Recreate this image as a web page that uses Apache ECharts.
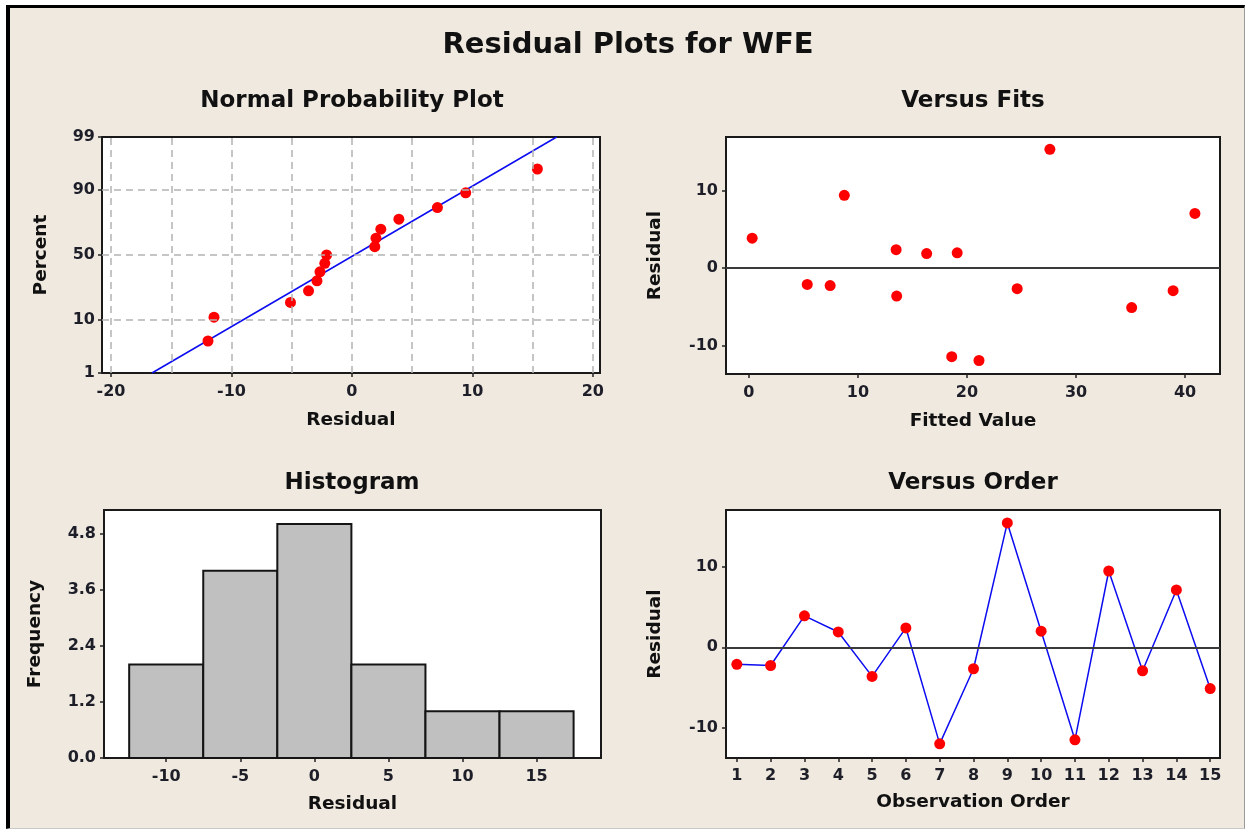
<!DOCTYPE html>
<html>
<head>
<meta charset="utf-8">
<title>Residual Plots for WFE</title>
<script src="https://cdn.jsdelivr.net/npm/echarts@6/dist/echarts.min.js"></script>
<style>
  html, body { margin: 0; padding: 0; background: #ffffff; }
  #frame {
    position: absolute; left: 6px; top: 5px; width: 1234px; height: 820px;
    background: #efe9e0;
    border-left: 4px solid #000; border-top: 3px solid #000;
    border-right: 1px solid #9a9a9a; border-bottom: 1px solid #c8c8c8;
  }
  #chart { position: absolute; left: 0; top: 0; width: 1249px; height: 831px; }
</style>
</head>
<body>
<div id="frame"></div>
<div id="chart"></div>
<script>
// ---- data ----------------------------------------------------------------
const observationOrder = [1, 2, 3, 4, 5, 6, 7, 8, 9, 10, 11, 12, 13, 14, 15];
const residuals = [-2.1, -2.25, 3.9, 1.9, -3.6, 2.4, -11.95, -2.65, 15.4, 2.0, -11.45, 9.45, -2.9, 7.1, -5.1];
const fittedValues = [5.35, 7.45, 0.3, 16.3, 13.55, 13.5, 21.1, 24.6, 27.6, 19.1, 18.6, 8.75, 38.9, 40.9, 35.1];

// plotting positions (percent) of the ordered residuals
const probPercent = [4.5, 11.0, 17.5, 24.0, 30.5, 37.0, 43.5, 50.0, 56.5, 63.0, 69.5, 76.0, 82.5, 89.0, 95.5];
// fitted normal line, as [residual, percent] end points
const normalFitLine = [[-16.6, 1], [17.0, 99]];

// histogram of residuals
const binEdges = [-12.5, -7.5, -2.5, 2.5, 7.5, 12.5, 17.5];
const binCounts = [2, 4, 5, 2, 1, 1];

// tick labels
const percentTicks = [1, 10, 50, 90, 99];
const percentGrid = [10, 50, 90];
const normalResidualTicks = [-20, -10, 0, 10, 20];
const normalGridX = [-20, -15, -10, -5, 0, 5, 10, 15, 20];
const fitTicks = [0, 10, 20, 30, 40];
const residualTicks = [-10, 0, 10];
const freqTicks = [0, 1.2, 2.4, 3.6, 4.8];
const histResidualTicks = [-10, -5, 0, 5, 10, 15];

// ---- normal probability scale ---------------------------------------------
function normInv(p) {
  const a = [-3.969683028665376e+01, 2.209460984245205e+02, -2.759285104469687e+02, 1.383577518672690e+02, -3.066479806614716e+01, 2.506628277459239e+00];
  const b = [-5.447609879822406e+01, 1.615858368580409e+02, -1.556989798598866e+02, 6.680131188771972e+01, -1.328068155288572e+01];
  const c = [-7.784894002430293e-03, -3.223964580411365e-01, -2.400758277161838e+00, -2.549732539343734e+00, 4.374664141464968e+00, 2.938163982698783e+00];
  const d = [7.784695709041462e-03, 3.224671290700398e-01, 2.445134137142996e+00, 3.754408661907416e+00];
  const pl = 0.02425, ph = 1 - pl;
  let q, r;
  if (p < pl) {
    q = Math.sqrt(-2 * Math.log(p));
    return (((((c[0]*q+c[1])*q+c[2])*q+c[3])*q+c[4])*q+c[5]) / ((((d[0]*q+d[1])*q+d[2])*q+d[3])*q+1);
  }
  if (p > ph) {
    q = Math.sqrt(-2 * Math.log(1 - p));
    return -(((((c[0]*q+c[1])*q+c[2])*q+c[3])*q+c[4])*q+c[5]) / ((((d[0]*q+d[1])*q+d[2])*q+d[3])*q+1);
  }
  q = p - 0.5; r = q * q;
  return (((((a[0]*r+a[1])*r+a[2])*r+a[3])*r+a[4])*r+a[5])*q / (((((b[0]*r+b[1])*r+b[2])*r+b[3])*r+b[4])*r+1);
}
const zOf = pct => normInv(pct / 100);
const zTicks = percentTicks.map(zOf);

const sortedResiduals = residuals.slice().sort((x, y) => x - y);
const probPoints = sortedResiduals.map((r, i) => [r, zOf(probPercent[i])]);
const fitLinePoints = normalFitLine.map(([x, p]) => [x, zOf(p)]);
const fitsPoints = fittedValues.map((f, i) => [f, residuals[i]]);
const orderPoints = observationOrder.map((o, i) => [o, residuals[i]]);
const histBins = binCounts.map((c, i) => [binEdges[i], binEdges[i + 1], c]);

// ---- styling helpers -------------------------------------------------------
const FONT = 'DejaVu Sans';
const RED = '#ff0000';
const BLUE = '#0c0cf0';
const GRID_GREY = '#b3b3b3';
const tickLabel = { color: '#1e1e28', fontFamily: FONT, fontSize: 16, fontWeight: 'bold' };
const axisName = { color: '#111', fontFamily: FONT, fontSize: 18.5, fontWeight: 'bold' };

function valueAxis(o) {
  return {
    type: 'value',
    gridIndex: o.grid,
    min: o.min, max: o.max,
    name: o.name, nameLocation: 'middle', nameGap: o.nameGap,
    nameTextStyle: axisName,
    axisLine: { show: false, onZero: false },
    axisTick: { show: true, inside: false, length: 4, customValues: o.ticks, lineStyle: { color: '#222', width: 1.5 } },
    axisLabel: Object.assign({ customValues: o.ticks, margin: o.margin, formatter: o.formatter }, tickLabel),
    splitLine: { show: false }
  };
}

function gridBox(left, top, width, height) {
  return { left, top, width, height, show: true, backgroundColor: '#ffffff',
           borderColor: '#1a1a1a', borderWidth: 2, outerBoundsMode: 'none' };
}

function zeroLine() {
  return {
    silent: true, symbol: 'none', animation: false,
    label: { show: false },
    lineStyle: { color: '#3a3a3a', width: 2, type: 'solid' },
    data: [{ yAxis: 0 }]
  };
}

function titleText(text, x, y, size) {
  return {
    type: 'text', x, y, silent: true,
    style: { text, fill: '#111', font: 'bold ' + size + 'px "' + FONT + '"', align: 'center', verticalAlign: 'middle' }
  };
}

const option = {
  animation: false,
  backgroundColor: 'transparent',
  graphic: [
    titleText('Residual Plots for WFE', 628, 45, 29),
    titleText('Normal Probability Plot', 352, 101, 23),
    titleText('Versus Fits', 973, 101, 23),
    titleText('Histogram', 352, 483, 23),
    titleText('Versus Order', 973, 483, 23)
  ],
  grid: [
    gridBox(102, 137, 498, 236),
    gridBox(726, 137, 494, 237),
    gridBox(104, 510, 497, 248),
    gridBox(726, 510, 494, 248)
  ],
  xAxis: [
    valueAxis({ grid: 0, min: -20.75, max: 20.6, ticks: normalResidualTicks, name: 'Residual', nameGap: 38, margin: 11 }),
    valueAxis({ grid: 1, min: -2.1, max: 43.2, ticks: fitTicks, name: 'Fitted Value', nameGap: 38, margin: 11 }),
    valueAxis({ grid: 2, min: -14.2, max: 19.35, ticks: histResidualTicks, name: 'Residual', nameGap: 37, margin: 11 }),
    valueAxis({ grid: 3, min: 0.68, max: 15.29, ticks: observationOrder, name: 'Observation Order', nameGap: 35, margin: 10 })
  ],
  yAxis: [
    valueAxis({
      grid: 0, min: zOf(1), max: zOf(99), ticks: zTicks, name: 'Percent', nameGap: 51, margin: 7,
      formatter: v => { const i = zTicks.findIndex(z => Math.abs(z - v) < 1e-6); return i >= 0 ? String(percentTicks[i]) : ''; }
    }),
    valueAxis({ grid: 1, min: -13.7, max: 17, ticks: residualTicks, name: 'Residual', nameGap: 61, margin: 8 }),
    valueAxis({ grid: 2, min: 0, max: 5.3, ticks: freqTicks, name: 'Frequency', nameGap: 59, margin: 8,
                formatter: v => v.toFixed(1) }),
    valueAxis({ grid: 3, min: -13.7, max: 17, ticks: residualTicks, name: 'Residual', nameGap: 61, margin: 8 })
  ],
  series: [
    {
      // reference grid of the probability plot
      type: 'line', xAxisIndex: 0, yAxisIndex: 0, z: 1,
      data: [], symbol: 'none',
      markLine: {
        silent: true, symbol: 'none', animation: false, label: { show: false },
        lineStyle: { color: GRID_GREY, width: 1.5, type: [7, 5] },
        data: normalGridX.map(x => ({ xAxis: x })).concat(percentGrid.map(p => ({ yAxis: zOf(p) })))
      }
    },
    {
      type: 'line', xAxisIndex: 0, yAxisIndex: 0, z: 2,
      data: fitLinePoints, symbol: 'none', clip: true,
      lineStyle: { color: BLUE, width: 1.5 }
    },
    {
      type: 'scatter', xAxisIndex: 0, yAxisIndex: 0, z: 4,
      data: probPoints, symbol: 'circle', symbolSize: 11,
      itemStyle: { color: RED, opacity: 1 }
    },
    {
      type: 'scatter', xAxisIndex: 1, yAxisIndex: 1, z: 4,
      data: fitsPoints, symbol: 'circle', symbolSize: 11,
      itemStyle: { color: RED, opacity: 1 },
      markLine: zeroLine()
    },
    {
      type: 'custom', xAxisIndex: 2, yAxisIndex: 2, z: 3,
      data: histBins,
      encode: { x: [0, 1], y: 2 },
      renderItem: function (params, api) {
        const topLeft = api.coord([api.value(0), api.value(2)]);
        const bottomRight = api.coord([api.value(1), 0]);
        return {
          type: 'rect',
          shape: { x: topLeft[0], y: topLeft[1], width: bottomRight[0] - topLeft[0], height: bottomRight[1] - topLeft[1] },
          style: { fill: '#c0c0c0', stroke: '#141414', lineWidth: 2 }
        };
      }
    },
    {
      type: 'line', xAxisIndex: 3, yAxisIndex: 3, z: 4,
      data: orderPoints, symbol: 'circle', symbolSize: 11, showAllSymbol: true,
      lineStyle: { color: BLUE, width: 1.5 },
      itemStyle: { color: RED, opacity: 1 },
      markLine: zeroLine()
    }
  ]
};

const chart = echarts.init(document.getElementById('chart'), null, { renderer: 'canvas' });
chart.setOption(option);
</script>
</body>
</html>
